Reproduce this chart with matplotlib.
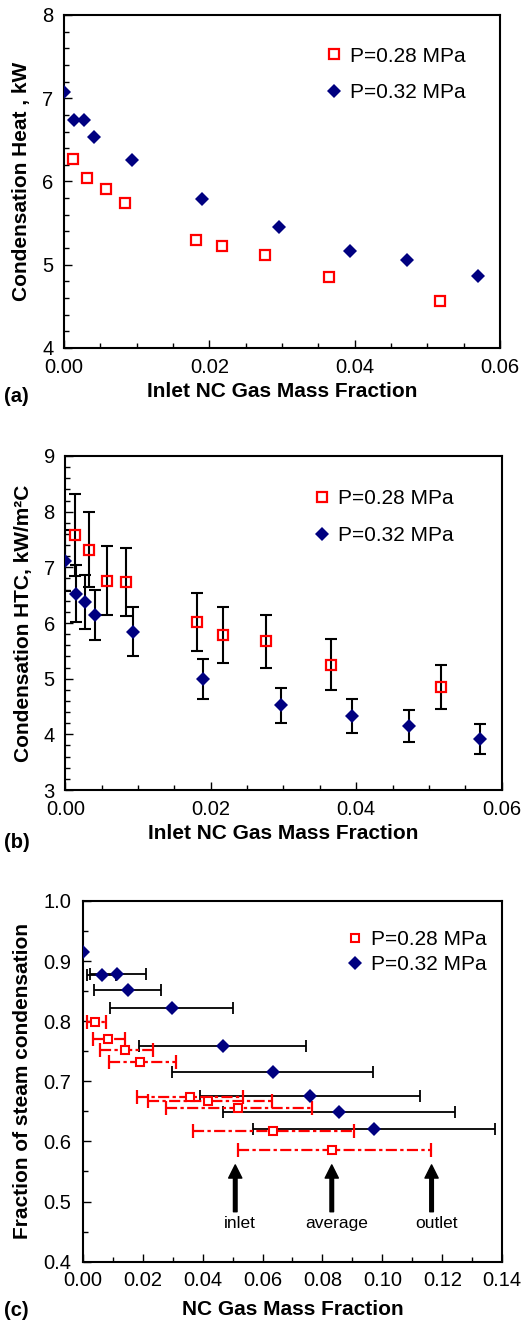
import numpy as np
import matplotlib
matplotlib.use("Agg")
import matplotlib.pyplot as plt
from matplotlib.ticker import MultipleLocator, FormatStrFormatter

plt.rcParams['font.family'] = ['Liberation Sans', 'DejaVu Sans']

# (a) condensation heat, kW
a_x_028 = [0.0013, 0.0031, 0.0058, 0.0084, 0.0182, 0.0217, 0.0276, 0.0365, 0.0517]
a_y_028 = [6.27, 6.04, 5.91, 5.74, 5.30, 5.23, 5.12, 4.85, 4.56]
a_x_032 = [0.0, 0.0014, 0.0027, 0.0041, 0.0094, 0.0190, 0.0296, 0.0394, 0.0472, 0.0570]
a_y_032 = [7.08, 6.74, 6.74, 6.53, 6.26, 5.79, 5.45, 5.17, 5.06, 4.86]

# (b) condensation HTC, kW/m2C with error
b_x_028 = [0.0013, 0.0032, 0.0058, 0.0084, 0.0181, 0.0217, 0.0276, 0.0365, 0.0517]
b_y_028 = [7.58, 7.32, 6.76, 6.73, 6.02, 5.78, 5.67, 5.25, 4.85]
b_e_028 = [0.74, 0.68, 0.62, 0.61, 0.52, 0.50, 0.48, 0.46, 0.40]
b_x_032 = [0.0, 0.0015, 0.0027, 0.0041, 0.0093, 0.0189, 0.0296, 0.0394, 0.0473, 0.0570]
b_y_032 = [7.12, 6.53, 6.38, 6.14, 5.84, 5.00, 4.52, 4.33, 4.15, 3.91]
b_e_032 = [0.55, 0.51, 0.48, 0.45, 0.44, 0.36, 0.31, 0.31, 0.28, 0.27]

# (c) fraction of steam condensation vs NC gas fraction (inlet .. outlet range)
c_x_028 = [0.0041, 0.0083, 0.0142, 0.0192, 0.0358, 0.0419, 0.0517, 0.0634, 0.0833]
c_y_028 = [0.798, 0.770, 0.752, 0.732, 0.674, 0.667, 0.655, 0.618, 0.585]
c_lo_028 = [0.0015, 0.0035, 0.0058, 0.0089, 0.0182, 0.0219, 0.0278, 0.0367, 0.0519]
c_hi_028 = [0.0078, 0.0141, 0.0236, 0.0310, 0.0536, 0.0631, 0.0764, 0.0905, 0.1161]
c_x_032 = [0.0, 0.0063, 0.0116, 0.0150, 0.0297, 0.0467, 0.0634, 0.0758, 0.0855, 0.0973]
c_y_032 = [0.915, 0.877, 0.879, 0.852, 0.8225, 0.758, 0.716, 0.676, 0.6485, 0.620]
c_lo_032 = [0.0, 0.0015, 0.0023, 0.0038, 0.0091, 0.0188, 0.0297, 0.0391, 0.0467, 0.0569]
c_hi_032 = [0.0, 0.0111, 0.0210, 0.0262, 0.0503, 0.0745, 0.0968, 0.1125, 0.1242, 0.1376]

arrow_labels = ["inlet", "average", "outlet"]
arrow_x = [0.0509, 0.0831, 0.1164]

RED = '#ff0000'
BLUE = '#000080'
TICK_FS = 14.5
LABEL_FS = 15
LEG_FS = 15


def style_axes(ax, xmaj, xmin, ymaj, ymin, xfmt, yfmt):
    for s in ax.spines.values():
        s.set_linewidth(1.5)
    ax.xaxis.set_major_locator(MultipleLocator(xmaj))
    ax.xaxis.set_minor_locator(MultipleLocator(xmin))
    ax.yaxis.set_major_locator(MultipleLocator(ymaj))
    ax.yaxis.set_minor_locator(MultipleLocator(ymin))
    ax.xaxis.set_major_formatter(FormatStrFormatter(xfmt))
    ax.yaxis.set_major_formatter(FormatStrFormatter(yfmt))
    ax.tick_params(which='both', direction='in', top=False, right=False, width=1)
    ax.tick_params(which='major', length=5.5, labelsize=TICK_FS)
    ax.tick_params(axis='x', which='major', pad=7)
    ax.tick_params(axis='y', which='major', pad=7.5)
    ax.tick_params(which='minor', length=3.5)


def add_legend(ax, anchor, spacing):
    ax.legend(loc='upper left', bbox_to_anchor=anchor, frameon=False, fontsize=LEG_FS,
              handlelength=0.8, handletextpad=0.35, labelspacing=spacing, borderpad=0,
              borderaxespad=0)


fig = plt.figure(figsize=(5.24, 13.24), dpi=100)

# ---- (a)
ax1 = fig.add_axes([0.1221, 0.7372, 0.8321, 0.2515])
ax1.plot(a_x_028, a_y_028, 's', ms=6.5, mfc='white', mec=RED, mew=1.6, label='P=0.28 MPa', zorder=3)
ax1.plot(a_x_032, a_y_032, 'D', ms=7, mfc=BLUE, mec=BLUE, mew=0, label='P=0.32 MPa', zorder=3)
ax1.set_xlim(0, 0.06)
ax1.set_ylim(4, 8)
style_axes(ax1, 0.02, 0.005, 1, 0.2, '%.2f', '%d')
ax1.set_xlabel("Inlet NC Gas Mass Fraction", fontsize=LABEL_FS, fontweight='bold', labelpad=4)
ax1.set_ylabel("Condensation Heat , kW", fontsize=LABEL_FS, fontweight='bold', labelpad=8)
add_legend(ax1, (0.60, 0.905), 0.85)

# ---- (b)
ax2 = fig.add_axes([0.1246, 0.4033, 0.8328, 0.2523])
ax2.errorbar(b_x_028, b_y_028, yerr=b_e_028, fmt='none', ecolor='black', elinewidth=1.5,
             capsize=4, capthick=1.5, zorder=2)
ax2.errorbar(b_x_032, b_y_032, yerr=b_e_032, fmt='none', ecolor='black', elinewidth=1.5,
             capsize=4, capthick=1.5, zorder=2)
ax2.plot(b_x_028, b_y_028, 's', ms=6.5, mfc='none', mec=RED, mew=1.6, label='P=0.28 MPa', zorder=3)
ax2.plot(b_x_032, b_y_032, 'D', ms=7, mfc=BLUE, mec=BLUE, mew=0, label='P=0.32 MPa', zorder=3)
ax2.set_xlim(0, 0.06)
ax2.set_ylim(3, 9)
style_axes(ax2, 0.02, 0.005, 1, 0.2, '%.2f', '%d')
ax2.set_xlabel("Inlet NC Gas Mass Fraction", fontsize=LABEL_FS, fontweight='bold', labelpad=4)
ax2.set_ylabel("Condensation HTC, kW/m\u00b2C", fontsize=LABEL_FS, fontweight='bold', labelpad=8)
add_legend(ax2, (0.57, 0.90), 0.85)

# ---- (c)
ax3 = fig.add_axes([0.1578, 0.0471, 0.8008, 0.2724])
c_x_032a = np.array(c_x_032)
c_err_032 = [c_x_032a - np.array(c_lo_032), np.array(c_hi_032) - c_x_032a]
c_x_028a = np.array(c_x_028)
c_err_028 = [c_x_028a - np.array(c_lo_028), np.array(c_hi_028) - c_x_028a]
ax3.errorbar(c_x_032[1:], c_y_032[1:], xerr=[c_err_032[0][1:], c_err_032[1][1:]], fmt='none',
             ecolor='black', elinewidth=1.3, capsize=4, capthick=1.3, zorder=2)
eb = ax3.errorbar(c_x_028, c_y_028, xerr=c_err_028, fmt='none', ecolor=RED, elinewidth=1.6,
                  capsize=5, capthick=1.6, zorder=2.5)
eb[2][0].set_linestyle((0, (5, 1.5, 1.5, 1.5)))
ax3.plot(c_x_028, c_y_028, 's', ms=6, mfc='white', mec=RED, mew=1.5, label='P=0.28 MPa', zorder=3)
ax3.plot(c_x_032, c_y_032, 'D', ms=7, mfc=BLUE, mec=BLUE, mew=0, label='P=0.32 MPa', zorder=3)
for lab, xa in zip(arrow_labels, arrow_x):
    ax3.annotate('', xy=(xa, 0.561), xytext=(xa, 0.483),
                 arrowprops=dict(facecolor='black', edgecolor='black', width=2.6,
                                 headwidth=9.5, headlength=9.5, shrink=0))
    ax3.text(xa + 0.0015, 0.464, lab, ha='center', va='center', fontsize=12.5)
ax3.set_xlim(0, 0.14)
ax3.set_ylim(0.4, 1.0)
style_axes(ax3, 0.02, 0.01, 0.1, 0.05, '%.2f', '%.1f')
ax3.tick_params(axis='y', which='major', pad=8)
ax3.set_xlabel("NC Gas Mass Fraction", fontsize=LABEL_FS, fontweight='bold', labelpad=7)
ax3.set_ylabel("Fraction of steam condensation", fontsize=LABEL_FS, fontweight='bold', labelpad=8)
add_legend(ax3, (0.63, 0.92), 0.3)

fig.text(0.008, 1 - 397 / 1324, "(a)", fontsize=14.5, fontweight='bold', va='center')
fig.text(0.008, 1 - 842 / 1324, "(b)", fontsize=14.5, fontweight='bold', va='center')
fig.text(0.008, 1 - 1311 / 1324, "(c)", fontsize=14.5, fontweight='bold', va='center')

fig.savefig("out.png", dpi=100)
